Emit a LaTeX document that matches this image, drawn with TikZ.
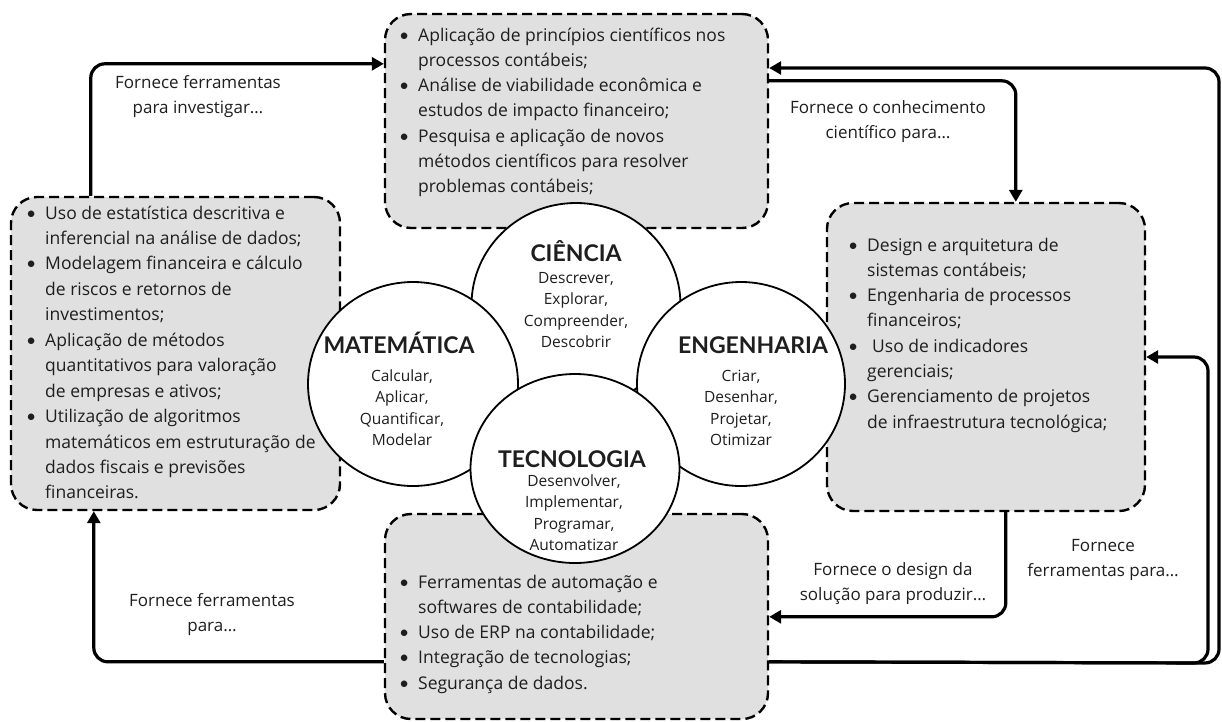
\documentclass[tikz,border=0pt]{standalone}
\usepackage{fontspec}
\setmainfont{Open Sans}
\newfontfamily\titlefont{Lato}
\usetikzlibrary{arrows.meta,shapes.geometric,calc}
\definecolor{boxgray}{HTML}{E0E0E0}
\definecolor{ink}{HTML}{1E1E1E}
\newcommand{\bul}{\makebox[19pt][l]{\titlefont\textbullet}}
\newcommand{\ind}{\hspace*{19pt}}
\begin{document}
\begin{tikzpicture}[x=1pt,y=-1pt,
  box/.style={draw, line width=2.4pt, dash pattern=on 10pt off 5pt, fill=boxgray, rounded corners=26pt, inner sep=0pt},
  venn/.style={ellipse, draw, line width=1.8pt, fill=white, inner sep=0pt},
  conn/.style={line width=3.2pt, rounded corners=14pt, -{Triangle[length=12pt,width=13pt]}},
  boxtext/.style={font=\fontsize{17.5}{25}\selectfont, text=ink, inner sep=0pt, anchor=base west},
  lbl/.style={font=\fontsize{17}{25}\selectfont, text=ink, align=center, inner sep=0pt},
  ttl/.style={font=\titlefont\fontsize{23}{26}\selectfont\bfseries, text=ink, inner sep=0pt, anchor=base},
  verbw/.style={font=\fontsize{15.5}{21}\selectfont, text=ink, inner sep=0pt, anchor=base}
]
\useasboundingbox (0,0) rectangle (1222,721);
\fill[white] (0,0) rectangle (1222,721);

% boxes
\node[box, minimum width=383pt, minimum height=214pt] (tbox) at (576.5,121) {};
\node[box, minimum width=329pt, minimum height=313pt] (lbox) at (175.5,353.5) {};
\node[box, minimum width=318pt, minimum height=308pt] (rbox) at (986,357) {};
\node[box, minimum width=383pt, minimum height=205pt] (bbox) at (576.5,616.5) {};

% corner coordinates
\coordinate (o1) at (1219,663);
\coordinate (o2) at (1219,68);
\coordinate (o3) at (1208,663);
\coordinate (o4) at (1208,357);

% connectors
\draw[conn] ([xshift=81pt]lbox.north west) |- ([yshift=-51pt]tbox.north west);
\draw[conn] ([yshift=-68pt]tbox.north east) -| ([xshift=190pt]rbox.north west);
\draw[conn] ([yshift=-149pt]bbox.north east) -- (o1) -- (o2) -- (tbox.east |- o2);
\draw[conn] ([yshift=-149pt]bbox.north east) -- (o3) -- (o4) -- (rbox.east |- o4);
\draw[conn] ([xshift=180pt]rbox.south west) |- ([yshift=-104pt]bbox.north east);
\draw[conn] ([yshift=-149pt]bbox.north west) -| ([xshift=84pt]lbox.south west);

% connector labels
\node[lbl] (l1) at (198,97) {Fornece ferramentas\\para investigar…};
\node[lbl] (l2) at (888,122) {Fornece o conhecimento\\científico para…};
\node[lbl] (l3) at (1103,560) {Fornece\\ferramentas para…};
\node[lbl] (l4) at (893,584) {Fornece o design da\\solução para produzir…};
\node[lbl] (l5) at (212,615) {Fornece ferramentas\\para…};

% venn circles
\node[venn, minimum width=209pt, minimum height=204pt] (cie) at (576,305) {};
\node[venn, minimum width=210pt, minimum height=204pt] (mat) at (413,384) {};
\node[venn, minimum width=208pt, minimum height=204pt] (eng) at (741,384) {};
\node[venn, minimum width=209pt, minimum height=189pt] (tec) at (575,468.5) {};

% titles
\node[ttl] (tcie) at (576,261) {CIÊNCIA};
\node[ttl] (tmat) at (399,353) {MATEMÁTICA};
\node[ttl] (teng) at (753,353) {ENGENHARIA};
\node[ttl] (ttec) at (572,467) {TECNOLOGIA};

% verbs
\foreach \t [count=\i from 0] in {{Descrever,},{Explorar,},{Compreender,},{Descobrir}}
  {\node[verbw, name=vc\i] at (576,283.5+21.3*\i) {\t};}
\foreach \t [count=\i from 0] in {{Calcular,},{Aplicar,},{Quantificar,},{Modelar}}
  {\node[verbw, name=vm\i] at (402,381.5+21.3*\i) {\t};}
\foreach \t [count=\i from 0] in {{Criar,},{Desenhar,},{Projetar,},{Otimizar}}
  {\node[verbw, name=ve\i] at (741,381.5+21.3*\i) {\t};}
\foreach \t [count=\i from 0] in {{Desenvolver,},{Implementar,},{Programar,},{Automatizar}}
  {\node[verbw, name=vt\i] at (574,486.5+21.3*\i) {\t};}

% box texts
\foreach \t [count=\i from 0] in {
  {\bul Aplicação de princípios científicos nos},
  {\ind processos contábeis;},
  {\bul Análise de viabilidade econômica e},
  {\ind estudos de impacto financeiro;},
  {\bul Pesquisa e aplicação de novos},
  {\ind métodos científicos para resolver},
  {\ind problemas contábeis;}}
  {\node[boxtext, name=xt\i] at (399,41+25.3*\i) {\t};}
\foreach \t [count=\i from 0] in {
  {\bul Uso de estatística descritiva e},
  {\ind inferencial na análise de dados;},
  {\bul Modelagem financeira e cálculo},
  {\ind de riscos e retornos de},
  {\ind investimentos;},
  {\bul Aplicação de métodos},
  {\ind quantitativos para valoração},
  {\ind de empresas e ativos;},
  {\bul Utilização de algoritmos},
  {\ind matemáticos em estruturação de},
  {\ind dados fiscais e previsões},
  {\ind financeiras.}}
  {\node[boxtext, name=xl\i] at (26,219+25.45*\i) {\t};}
\foreach \t [count=\i from 0] in {
  {\bul Design e arquitetura de},
  {\ind sistemas contábeis;},
  {\bul Engenharia de processos},
  {\ind financeiros;},
  {\bul\hspace*{5pt}Uso de indicadores},
  {\ind gerenciais;},
  {\bul Gerenciamento de projetos},
  {\ind de infraestrutura tecnológica;}}
  {\node[boxtext, name=xr\i] at (848,251+25.3*\i) {\t};}
\foreach \t [count=\i from 0] in {
  {\bul Ferramentas de automação e},
  {\ind softwares de contabilidade;},
  {\bul Uso de ERP na contabilidade;},
  {\bul Integração de tecnologias;},
  {\bul Segurança de dados.}}
  {\node[boxtext, name=xb\i] at (399,588+25.25*\i) {\t};}
\end{tikzpicture}
\end{document}
